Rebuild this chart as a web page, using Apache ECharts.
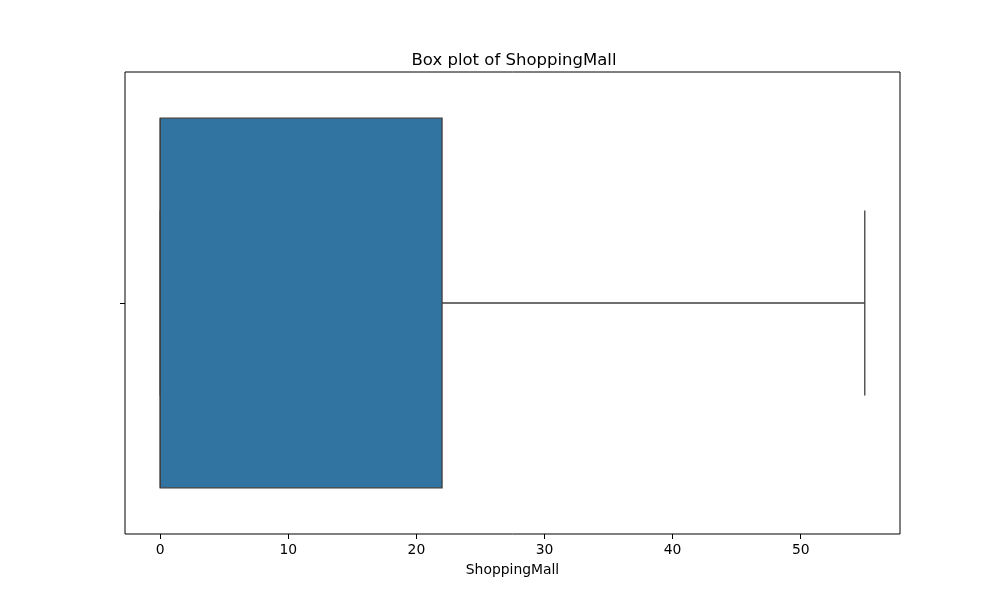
<!DOCTYPE html>
<html>
<head>
<meta charset="utf-8">
<title>Box plot of ShoppingMall</title>
<script src="https://cdn.jsdelivr.net/npm/echarts@6/dist/echarts.min.js"></script>
<style>
    html, body { margin: 0; padding: 0; background: #fff; }
    #chart { width: 1000px; height: 600px; }
</style>
</head>
<body>
<div id="chart"></div>
<script>
// 数据：箱线图五数概括
var categories = [''];
var boxStats = [[0, 0, 0, 0, 22, 55]];   // [类别索引, min, Q1, median, Q3, max]
var xTicks = [0, 10, 20, 30, 40, 50];

var font = 'DejaVu Sans';
var edgeColor = '#3f3f3f';
var boxColor = '#3274a1';

function renderBox(params, api) {
    var cat = api.value(0);
    var band = api.size([0, 1])[1];
    var half = band * 0.8 / 2;
    var cap = half / 2;
    var pMin = api.coord([api.value(1), cat]);
    var pQ1 = api.coord([api.value(2), cat]);
    var pMed = api.coord([api.value(3), cat]);
    var pQ3 = api.coord([api.value(4), cat]);
    var pMax = api.coord([api.value(5), cat]);
    var cy = pQ1[1];
    var lineStyle = { stroke: edgeColor, lineWidth: 1.3, fill: null };
    return {
        type: 'group',
        children: [
            // 须线
            { type: 'line', shape: { x1: pMin[0], y1: cy, x2: pQ1[0], y2: cy }, style: lineStyle },
            { type: 'line', shape: { x1: pQ3[0], y1: cy, x2: pMax[0], y2: cy }, style: lineStyle },
            { type: 'line', shape: { x1: pMin[0], y1: cy - cap, x2: pMin[0], y2: cy + cap }, style: lineStyle },
            { type: 'line', shape: { x1: pMax[0], y1: cy - cap, x2: pMax[0], y2: cy + cap }, style: lineStyle },
            // 箱体
            {
                type: 'rect',
                shape: { x: pQ1[0], y: cy - half, width: pQ3[0] - pQ1[0], height: half * 2 },
                style: { fill: boxColor, stroke: edgeColor, lineWidth: 1.3 }
            },
            // 中位数
            { type: 'line', shape: { x1: pMed[0], y1: cy - half, x2: pMed[0], y2: cy + half }, style: lineStyle }
        ]
    };
}

var chart = echarts.init(document.getElementById('chart'));
var option = {
    animation: false,
    backgroundColor: '#fff',
    title: {
        text: 'Box plot of ShoppingMall',
        left: 509,
        top: 47,
        textAlign: 'center',
        textStyle: { fontFamily: font, fontSize: 16.5, fontWeight: 'normal', color: '#000' }
    },
    grid: {
        left: 125,
        right: 100,
        top: 72,
        bottom: 66,
        show: true,
        borderColor: '#000',
        borderWidth: 1
    },
    xAxis: {
        type: 'value',
        min: -2.75,
        max: 57.75,
        name: 'ShoppingMall',
        nameLocation: 'middle',
        nameGap: 29,
        nameTextStyle: { fontFamily: font, fontSize: 13.9, color: '#000' },
        axisLine: { show: false, onZero: false },
        splitLine: { show: false },
        axisTick: { show: true, length: 5, customValues: xTicks, lineStyle: { color: '#000' } },
        axisLabel: {
            customValues: xTicks,
            margin: 9,
            fontFamily: font,
            fontSize: 13.9,
            color: '#000'
        }
    },
    yAxis: {
        type: 'category',
        data: categories,
        axisLine: { show: false, onZero: false },
        splitLine: { show: false },
        axisTick: { show: true, length: 5, alignWithLabel: true, lineStyle: { color: '#000' } },
        axisLabel: { show: false }
    },
    series: [{
        type: 'custom',
        renderItem: renderBox,
        encode: { x: [1, 2, 3, 4, 5], y: 0 },
        data: boxStats
    }]
};
chart.setOption(option);
</script>
</body>
</html>
